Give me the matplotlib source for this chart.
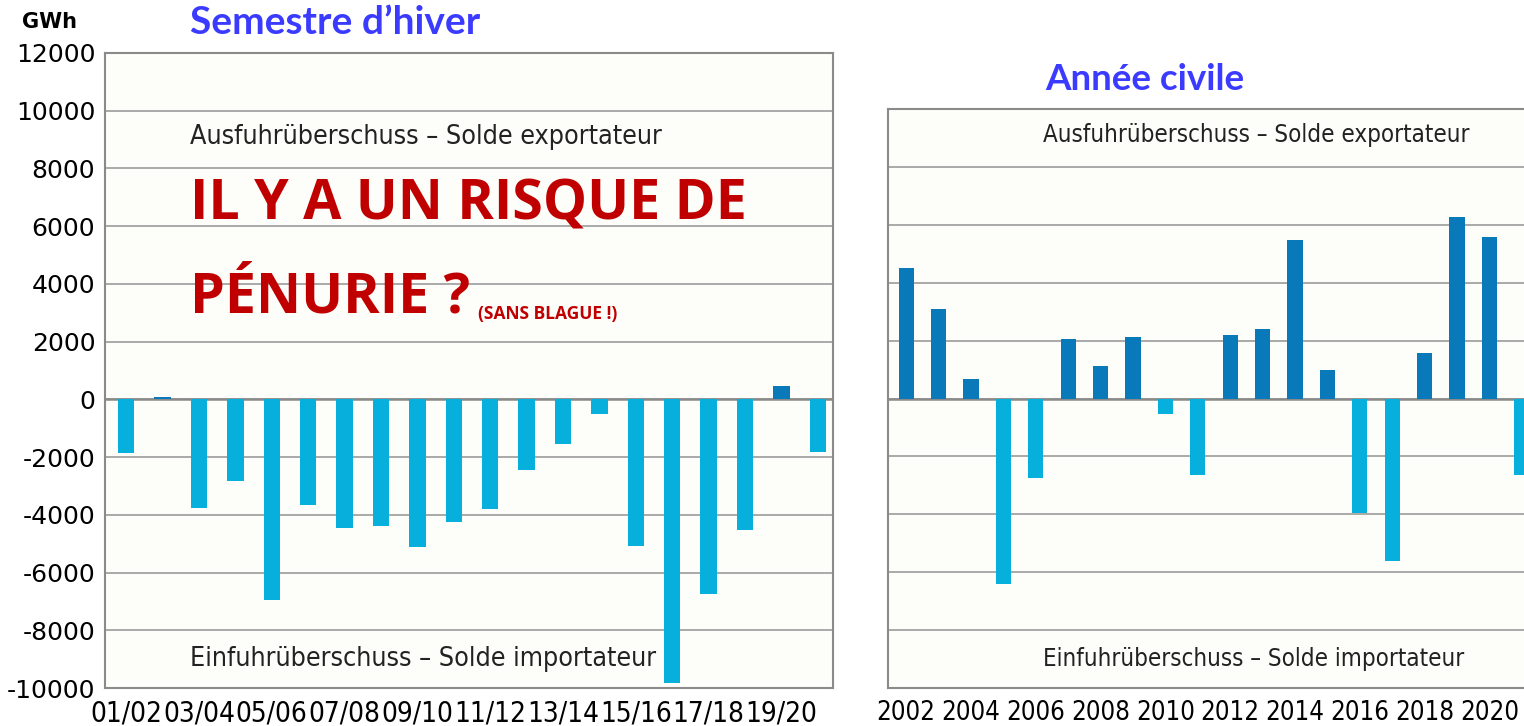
import numpy as np
import matplotlib
matplotlib.use("Agg")
from matplotlib import pyplot as plt

# winter semester balance (GWh)
winters = ["01/02", "02/03", "03/04", "04/05", "05/06", "06/07", "07/08", "08/09",
           "09/10", "10/11", "11/12", "12/13", "13/14", "14/15", "15/16", "16/17",
           "17/18", "18/19", "19/20", "20/21"]
winter_vals = [-1870, 80, -3750, -2840, -6960, -3670, -4470, -4400, -5130, -4260,
               -3810, -2430, -1560, -520, -5090, -9840, -6760, -4540, 480, -1840]

# calendar year balance (GWh)
years = list(range(2002, 2022))
year_vals = [4500, 3080, 690, -6410, -2740, 2040, 1110, 2110, -520, -2630,
             2180, 2390, 5470, 1000, -3950, -5610, 1560, 6270, 5580, -2630]

year_ticks = list(range(2002, 2021, 2))
left_yticks = list(range(-10000, 12001, 2000))

POS = "#0a79b9"
NEG = "#07afdc"
BG = "#fdfdf9"
GRID = "#a3a3a3"
COND = dict(family="DejaVu Sans", stretch="condensed")


def colors(vals):
    return [POS if v > 0 else NEG for v in vals]


def style(ax):
    ax.set_facecolor(BG)
    for s in ["left", "top", "bottom", "right"]:
        ax.spines[s].set_color("#8a8a8a")
        ax.spines[s].set_linewidth(1.5)
    ax.tick_params(length=0)
    ax.set_axisbelow(True)
    ax.grid(axis="y", color=GRID, linewidth=1.3)
    ax.axhline(0, color="#8a8a8a", linewidth=1.8, zorder=1)


fig = plt.figure(figsize=(15.24, 7.26), dpi=100)
W, H = 1524, 726

# left panel
ax1 = fig.add_axes([105 / W, 1 - 688 / H, 728 / W, 635 / H])
x1 = np.arange(len(winters))
ax1.bar(x1, winter_vals, width=0.45, color=colors(winter_vals), zorder=2)
ax1.set_xlim(-0.58, 19.42)
ax1.set_ylim(-10000, 12000)
ax1.set_yticks(left_yticks)
ax1.set_yticklabels([str(v) for v in left_yticks], fontsize=18, family="DejaVu Sans")
ax1.set_xticks(x1[::2])
ax1.set_xticklabels(winters[::2], fontsize=20, **COND)
ax1.tick_params(axis="y", pad=7)
ax1.tick_params(axis="x", pad=8)
style(ax1)

# right panel
ax2 = fig.add_axes([888 / W, 1 - 688 / H, 636 / W, 579 / H])
ax2.bar(years, year_vals, width=0.47, color=colors(year_vals), zorder=2)
ax2.set_xlim(2001.44, 2021.07)
ax2.set_ylim(-10000, 10000)
ax2.set_yticks(range(-10000, 10001, 2000))
ax2.set_yticklabels([])
ax2.set_xticks(year_ticks)
ax2.set_xticklabels([str(y) for y in year_ticks], fontsize=18.5, **COND)
ax2.tick_params(axis="x", pad=9)
style(ax2)
ax2.spines["right"].set_visible(False)


def t(x, y, s, **kw):
    fig.text(x / W, 1 - y / H, s, va="center", **kw)


t(22, 22, "GWh", fontsize=15, fontweight="bold", family="DejaVu Sans")
t(190, 22, "Semestre d\u2019hiver", fontsize=28, fontweight="bold", family="Lato", color="#3b3bff")
t(1045, 80, "Ann\u00e9e civile", fontsize=26.5, fontweight="bold", family="Lato", color="#3b3bff")

lab = dict(fontsize=19.3, color="#222222", **COND)
t(190, 137, "Ausfuhr\u00fcberschuss \u2013 Solde exportateur", **lab)
t(190, 659, "Einfuhr\u00fcberschuss \u2013 Solde importateur", **lab)
lab["fontsize"] = 17.3
t(1043, 135, "Ausfuhr\u00fcberschuss \u2013 Solde exportateur", **lab)
t(1043, 659, "Einfuhr\u00fcberschuss \u2013 Solde importateur", **lab)

t(190, 205, "IL Y A UN RISQUE DE", fontsize=40, fontweight="bold", family="Open Sans", color="#c00000")
t(190, 298, "P\u00c9NURIE ?", fontsize=40, fontweight="bold", family="Open Sans", color="#c00000")
t(478, 314, "(SANS BLAGUE !)", fontsize=12.5, fontweight="bold", family="Open Sans", color="#c00000")

fig.savefig("out.png", dpi=100, facecolor="white")
